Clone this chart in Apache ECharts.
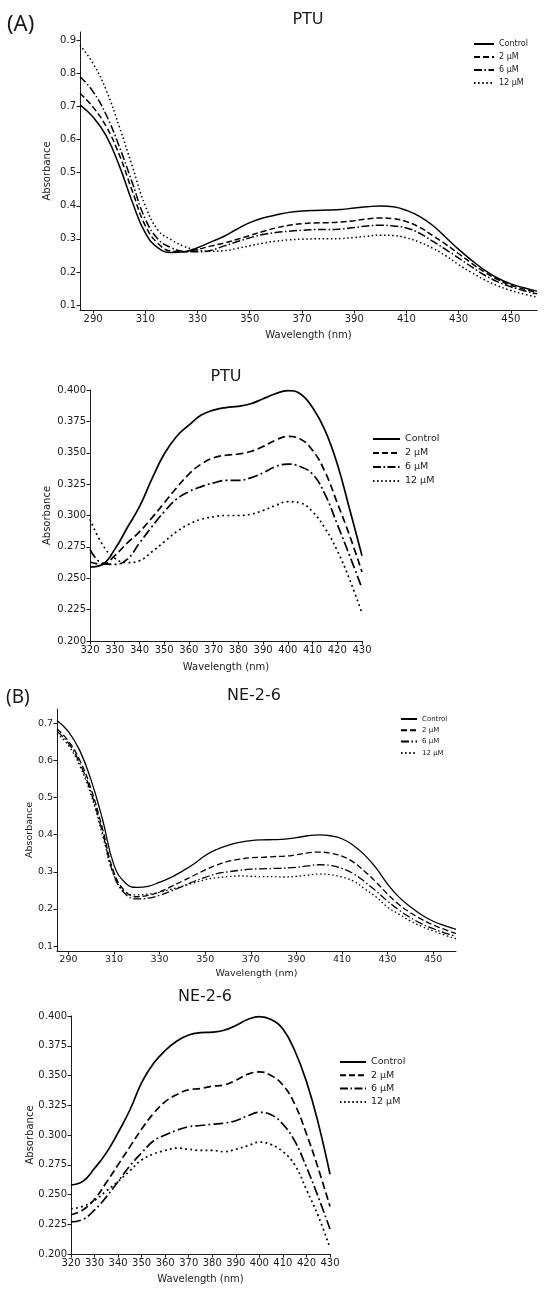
<!DOCTYPE html>
<html>
<head>
<meta charset="utf-8">
<script src="https://cdn.jsdelivr.net/npm/echarts@6/dist/echarts.min.js"></script>
<style>
html, body { margin: 0; padding: 0; background: #fff; }
#main { width: 550px; height: 1294px; }
</style>
</head>
<body>
<div id="main"></div>
<script>
// wavelength (nm), 5 nm steps
var wavelength = [285, 290, 295, 300, 305, 310, 315, 320, 325, 330, 335, 340, 345, 350, 355, 360, 365, 370,
	375, 380, 385, 390, 395, 400, 405, 410, 415, 420, 425, 430, 435, 440, 445, 450, 455, 460];

var seriesNames = ['Control', '2 μM', '6 μM', '12 μM'];

// PTU absorbance
var ptuControl = [0.705, 0.668, 0.612, 0.522, 0.412, 0.318, 0.272, 0.259, 0.261, 0.273, 0.290, 0.307, 0.329, 0.349,
	0.363, 0.372, 0.380, 0.384, 0.386, 0.387, 0.389, 0.393, 0.397, 0.3995, 0.397, 0.386, 0.368, 0.341, 0.305, 0.268,
	0.235, 0.205, 0.181, 0.164, 0.152, 0.142];
var ptu2 = [0.740, 0.698, 0.640, 0.555, 0.445, 0.340, 0.285, 0.263, 0.261, 0.268, 0.278, 0.287, 0.298, 0.310,
	0.322, 0.333, 0.341, 0.346, 0.348, 0.349, 0.351, 0.355, 0.360, 0.363, 0.361, 0.352, 0.335, 0.310, 0.284, 0.255,
	0.226, 0.199, 0.177, 0.160, 0.148, 0.138];
var ptu6 = [0.790, 0.745, 0.675, 0.580, 0.470, 0.360, 0.298, 0.273, 0.262, 0.261, 0.265, 0.278, 0.291, 0.303,
	0.313, 0.319, 0.323, 0.326, 0.328, 0.328, 0.330, 0.334, 0.339, 0.341, 0.339, 0.333, 0.317, 0.293, 0.268, 0.242,
	0.215, 0.190, 0.170, 0.155, 0.143, 0.134];
var ptu12 = [0.885, 0.830, 0.750, 0.640, 0.520, 0.400, 0.325, 0.297, 0.277, 0.266, 0.2625, 0.264, 0.271, 0.279,
	0.287, 0.293, 0.297, 0.299, 0.300, 0.300, 0.301, 0.304, 0.308, 0.311, 0.310, 0.303, 0.290, 0.272, 0.249, 0.222,
	0.198, 0.176, 0.158, 0.144, 0.133, 0.124];

// NE-2-6 absorbance
var neControl = [0.707, 0.677, 0.626, 0.546, 0.440, 0.318, 0.270, 0.258, 0.261, 0.272, 0.285, 0.302, 0.321, 0.344,
	0.360, 0.371, 0.379, 0.384, 0.386, 0.3865, 0.388, 0.392, 0.397, 0.3995, 0.397, 0.389, 0.371, 0.345, 0.310, 0.267,
	0.232, 0.206, 0.184, 0.167, 0.155, 0.145];
var ne2 = [0.685, 0.652, 0.600, 0.522, 0.415, 0.298, 0.247, 0.233, 0.237, 0.246, 0.260, 0.275, 0.290, 0.305,
	0.318, 0.328, 0.334, 0.338, 0.339, 0.341, 0.342, 0.346, 0.351, 0.353, 0.350, 0.342, 0.326, 0.301, 0.272, 0.240,
	0.212, 0.190, 0.172, 0.157, 0.145, 0.134];
var ne6 = [0.678, 0.646, 0.592, 0.512, 0.405, 0.290, 0.240, 0.227, 0.229, 0.237, 0.248, 0.261, 0.274, 0.285,
	0.295, 0.300, 0.304, 0.307, 0.308, 0.309, 0.310, 0.312, 0.316, 0.319, 0.317, 0.309, 0.295, 0.273, 0.248, 0.221,
	0.197, 0.177, 0.160, 0.147, 0.136, 0.126];
var ne12 = [0.672, 0.640, 0.585, 0.505, 0.398, 0.290, 0.245, 0.238, 0.240, 0.245, 0.253, 0.261, 0.270, 0.279,
	0.284, 0.287, 0.289, 0.288, 0.287, 0.287, 0.286, 0.288, 0.291, 0.294, 0.292, 0.286, 0.275, 0.254, 0.232, 0.205,
	0.186, 0.168, 0.153, 0.141, 0.130, 0.120];

// tick labels
var wideXTicks = [290, 310, 330, 350, 370, 390, 410, 430, 450];
var ptuYTicks = [0.1, 0.2, 0.3, 0.4, 0.5, 0.6, 0.7, 0.8, 0.9];
var neYTicks = [0.1, 0.2, 0.3, 0.4, 0.5, 0.6, 0.7];

var FONT = 'DejaVu Sans';
var INK = '#1a1a1a';

function pairs(values, lo, hi) {
	var out = [];
	for (var i = 0; i < wavelength.length; i++) {
		if (wavelength[i] >= lo && wavelength[i] <= hi)
			out.push([wavelength[i], values[i]]);
	}
	return out;
}

function dashFor(k, big) {
	var s = big ? 1.25 : 1;
	if (k === 0) return 'solid';
	if (k === 1) return [6 * s, 3 * s];
	if (k === 2) return [8 * s, 2.5 * s, 1.5 * s, 2.5 * s];
	return [1.5 * s, 2.6 * s];
}

function makeSeries(gi, sets, lo, hi, width, big) {
	var list = [];
	for (var k = 0; k < 4; k++) {
		list.push({
			name: seriesNames[k],
			type: 'line',
			xAxisIndex: gi,
			yAxisIndex: gi,
			symbol: 'none',
			smooth: 0.45,
			clip: true,
			silent: true,
			itemStyle: { color: '#000' },
			lineStyle: { color: '#000', width: width, type: dashFor(k, big) },
			data: pairs(sets[k], lo, hi)
		});
	}
	return list;
}

function xAxisOf(gi, min, max, ticks, gap, fs) {
	var ax = {
		type: 'value', gridIndex: gi, min: min, max: max,
		name: 'Wavelength (nm)', nameLocation: 'middle', nameGap: gap,
		nameTextStyle: { fontFamily: FONT, fontSize: fs, color: INK },
		axisLine: { lineStyle: { color: INK, width: 1 } },
		axisTick: { show: true, length: 3.5, lineStyle: { color: INK } },
		axisLabel: { fontFamily: FONT, fontSize: fs, color: INK, margin: 4 },
		splitLine: { show: false }
	};
	if (ticks) {
		ax.axisTick.customValues = ticks;
		ax.axisLabel.customValues = ticks;
	} else {
		ax.interval = 10;
	}
	return ax;
}

function yAxisOf(gi, min, max, ticks, digits, gap, fs) {
	var ax = {
		type: 'value', gridIndex: gi, min: min, max: max,
		name: 'Absorbance', nameLocation: 'middle', nameGap: gap,
		nameMoveOverlap: false,
		nameTextStyle: { fontFamily: FONT, fontSize: fs, color: INK },
		axisLine: { show: true, lineStyle: { color: INK, width: 1 } },
		axisTick: { show: true, length: 3.5, lineStyle: { color: INK } },
		axisLabel: {
			fontFamily: FONT, fontSize: fs, color: INK, margin: 4,
			formatter: function (v) { return v.toFixed(digits); }
		},
		splitLine: { show: false }
	};
	if (ticks) {
		ax.axisTick.customValues = ticks;
		ax.axisLabel.customValues = ticks;
	} else {
		ax.interval = 0.025;
	}
	return ax;
}

// legend: line sample only, no symbol
function legendOf(left, top, w, h, gap, fs) {
	return {
		orient: 'vertical', left: left, top: top, padding: 0,
		itemWidth: w, itemHeight: h, itemGap: gap,
		selectedMode: false,
		itemStyle: { opacity: 0, borderWidth: 0 },
		textStyle: { fontFamily: FONT, fontSize: fs, color: INK },
		data: seriesNames
	};
}

function titleText(text, x, y, fs) {
	return {
		type: 'text', x: x, y: y,
		style: { text: text, fontFamily: FONT, fontSize: fs, fill: INK, align: 'center', verticalAlign: 'middle' }
	};
}

var ptuSets = [ptuControl, ptu2, ptu6, ptu12];
var neSets = [neControl, ne2, ne6, ne12];

var chart = echarts.init(document.getElementById('main'), null, { renderer: 'canvas' });
var option = {
	animation: false,
	backgroundColor: '#fff',
	grid: [
		{ left: 80, top: 32, width: 457, height: 278 },
		{ left: 90, top: 390, width: 272, height: 251 },
		{ left: 57, top: 709, width: 399, height: 242 },
		{ left: 71, top: 1016, width: 259, height: 238 }
	],
	xAxis: [
		xAxisOf(0, 285, 460, wideXTicks, 20, 10),
		xAxisOf(1, 320, 430, null, 21, 10),
		xAxisOf(2, 285, 460, wideXTicks, 18, 9.5),
		xAxisOf(3, 320, 430, null, 20, 10)
	],
	yAxis: [
		yAxisOf(0, 0.085, 0.925, ptuYTicks, 1, 28, 10),
		yAxisOf(1, 0.2, 0.4, null, 3, 38, 10),
		yAxisOf(2, 0.087, 0.738, neYTicks, 1, 22, 9.5),
		yAxisOf(3, 0.2, 0.4, null, 3, 36, 10)
	],
	legend: [
		legendOf(473, 40, 20, 8, 5, 8),
		legendOf(372, 434, 27, 10, 4, 9.5),
		legendOf(400, 715.5, 16, 7, 4.3, 7),
		legendOf(339, 1057, 26, 10, 3.3, 9.5)
	],
	graphic: [
		{ type: 'text', left: 7, top: 14, style: { text: '(A)', fontFamily: 'Noto Sans', fontSize: 22, fill: INK } },
		{ type: 'text', left: 6, top: 688, style: { text: '(B)', fontFamily: 'Noto Sans', fontSize: 19, fill: INK } },
		titleText('PTU', 308, 20, 16),
		titleText('PTU', 226, 377, 16),
		titleText('NE-2-6', 254, 696, 16),
		titleText('NE-2-6', 205, 997, 16)
	],
	series: [].concat(
		makeSeries(0, ptuSets, 285, 460, 1.5, false),
		makeSeries(1, ptuSets, 320, 430, 1.7, true),
		makeSeries(2, neSets, 285, 460, 1.3, false),
		makeSeries(3, neSets, 320, 430, 1.7, true)
	)
};
chart.setOption(option);
</script>
</body>
</html>
